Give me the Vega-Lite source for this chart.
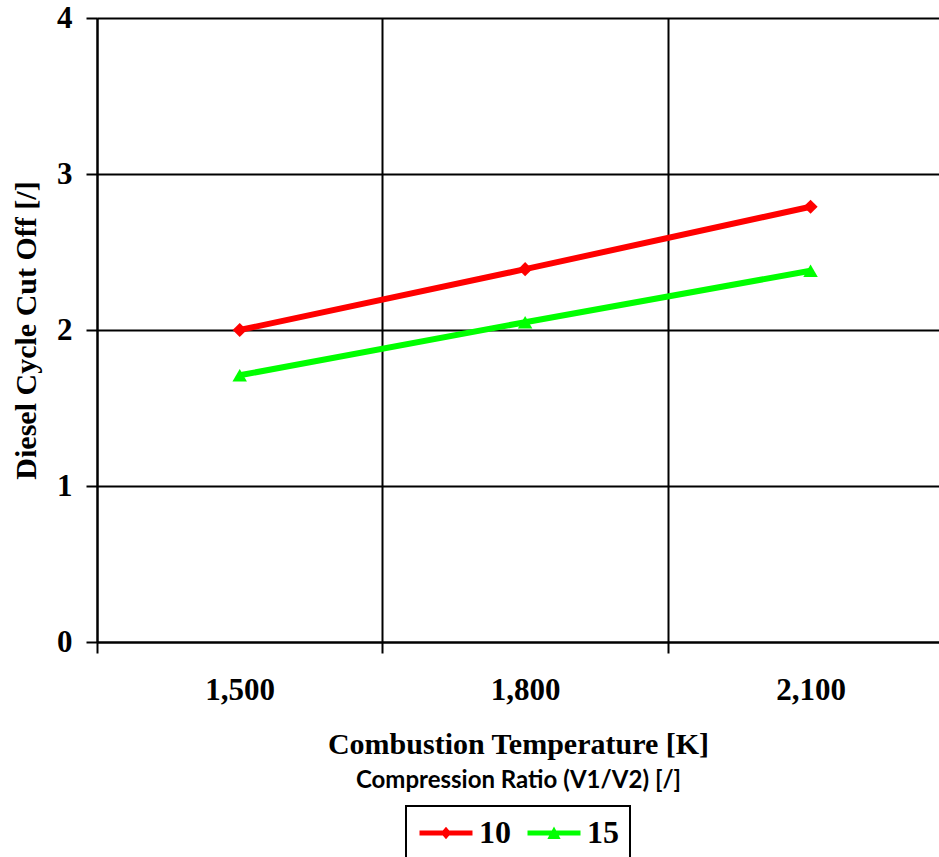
{
  "$schema": "https://vega.github.io/schema/vega-lite/v6.json",
  "width": 842,
  "height": 624,
  "autosize": {"type": "none"},
  "padding": {"left": 97, "top": 18, "right": 0, "bottom": 215},
  "background": "white",
  "data": {
    "values": [
      {"ratio": "10", "temperature": 1500, "cutoff": 2.0},
      {"ratio": "10", "temperature": 1800, "cutoff": 2.39},
      {"ratio": "10", "temperature": 2100, "cutoff": 2.79},
      {"ratio": "15", "temperature": 1500, "cutoff": 1.71},
      {"ratio": "15", "temperature": 1800, "cutoff": 2.05},
      {"ratio": "15", "temperature": 2100, "cutoff": 2.38}
    ]
  },
  "encoding": {
    "y": {
      "field": "cutoff",
      "type": "quantitative",
      "scale": {"domain": [0, 4], "nice": false},
      "axis": {
        "values": [0, 1, 2, 3, 4],
        "format": "d",
        "labelFont": "Liberation Serif",
        "labelFontSize": 31,
        "labelFontWeight": "bold",
        "labelColor": "black",
        "labelPadding": 14,
        "tickSize": 11,
        "tickColor": "black",
        "tickWidth": 2,
        "domainColor": "black",
        "domainWidth": 2,
        "grid": true,
        "gridColor": "black",
        "gridWidth": 2,
        "gridOpacity": 1,
        "title": "Diesel Cycle Cut Off [/]",
        "titleFont": "Liberation Serif",
        "titleFontSize": 30,
        "titleFontWeight": "bold",
        "titleColor": "black",
        "titlePadding": 15
      }
    },
    "color": {
      "field": "ratio",
      "type": "nominal",
      "scale": {"domain": ["10", "15"], "range": ["#ff0000", "#00ff00"]},
      "legend": {
        "title": null,
        "orient": "bottom",
        "direction": "horizontal",
        "strokeColor": "black",
        "padding": 11,
        "offset": 14,
        "labelFont": "Liberation Serif",
        "labelFontSize": 32,
        "labelFontWeight": "bold",
        "labelColor": "black",
        "labelOffset": 17,
        "columnPadding": 14,
        "symbolSize": 702,
        "symbolOffset": 13,
        "symbolStrokeWidth": 0,
        "encode": {
          "legend": {"update": {"strokeWidth": {"value": 2}}},
          "symbols": {
            "update": {
              "shape": {"signal": "datum.value == '10' ? 'M-2,-0.19L2,-0.19L2,0.19L-2,0.19ZM0,-0.48L0.4,0L0,0.48L-0.4,0Z' : 'M-2,-0.19L2,-0.19L2,0.19L-2,0.19ZM0,-0.5L0.5,0.45L-0.5,0.45Z'"},
              "fill": {"signal": "datum.value == '10' ? '#ff0000' : '#00ff00'"},
              "stroke": {"value": "transparent"},
              "strokeWidth": {"value": 0},
              "opacity": {"value": 1}
            }
          }
        }
      }
    }
  },
  "layer": [
    {
      "mark": {"type": "line", "strokeWidth": 6},
      "encoding": {
        "x": {
          "field": "temperature",
          "type": "quantitative",
          "scale": {"domain": [1350, 2235], "nice": false, "zero": false},
          "axis": {
            "orient": "bottom",
            "values": [1350, 1500, 1650, 1800, 1950, 2100],
            "labelExpr": "datum.value % 300 == 0 ? format(datum.value, ',') : ''",
            "labelFlush": false,
            "labelOverlap": false,
            "labelFont": "Liberation Serif",
            "labelFontSize": 31,
            "labelFontWeight": "bold",
            "labelColor": "black",
            "labelPadding": 22,
            "tickSize": 11,
            "tickColor": "black",
            "tickWidth": 2,
            "tickOpacity": {"condition": {"test": "datum.value % 300 != 0", "value": 1}, "value": 0},
            "domainColor": "black",
            "domainWidth": 2,
            "grid": true,
            "gridColor": "black",
            "gridWidth": 2,
            "gridOpacity": {"condition": {"test": "datum.value % 300 != 0", "value": 1}, "value": 0},
            "title": "Combustion Temperature [K]",
            "titleFont": "Liberation Serif",
            "titleFontSize": 30,
            "titleFontWeight": "bold",
            "titleColor": "black",
            "titlePadding": 24
          }
        }
      }
    },
    {
      "transform": [{"filter": "datum.ratio == '10'"}],
      "mark": {"type": "point", "filled": true, "opacity": 1, "size": 200, "shape": "diamond"},
      "encoding": {
        "x": {
          "field": "temperature",
          "type": "quantitative",
          "scale": {"domain": [1350, 2235], "nice": false, "zero": false},
          "axis": {
            "orient": "bottom",
            "domain": false,
            "ticks": false,
            "labels": false,
            "grid": false,
            "title": "Compression Ratio (V1/V2) [/]",
            "titleFont": "Lato",
            "titleFontSize": 24,
            "titleFontWeight": "bold",
            "titleColor": "black",
            "titlePadding": 126
          }
        }
      }
    },
    {
      "transform": [{"filter": "datum.ratio == '15'"}],
      "mark": {"type": "point", "filled": true, "opacity": 1, "size": 210, "shape": "triangle-up"},
      "encoding": {
        "x": {
          "field": "temperature",
          "type": "quantitative",
          "scale": {"domain": [1350, 2235], "nice": false, "zero": false},
          "axis": null
        }
      }
    }
  ],
  "resolve": {"axis": {"x": "independent"}},
  "config": {
    "view": {"stroke": null},
    "legend": {"layout": {"bottom": {"anchor": "middle"}}}
  }
}
